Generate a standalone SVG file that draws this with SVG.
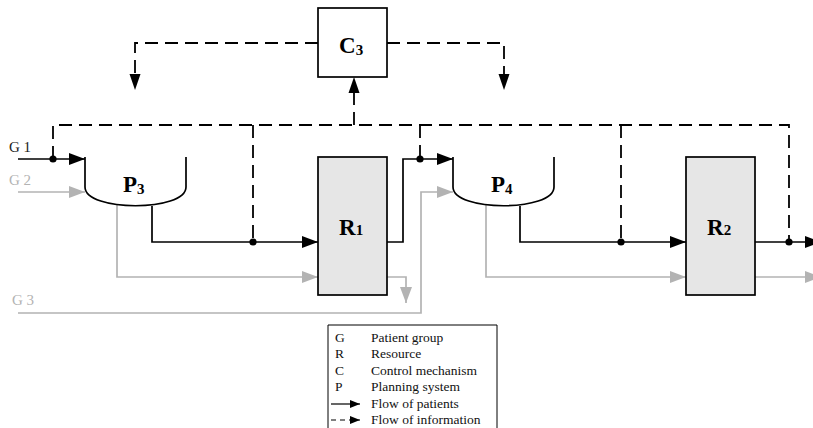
<svg xmlns="http://www.w3.org/2000/svg" width="813" height="428" viewBox="0 0 813 428">
<style>
.blk{fill:none;stroke:#000;stroke-width:1.7}
.gry{fill:none;stroke:#b3b3b3;stroke-width:1.7}
.dsh{fill:none;stroke:#000;stroke-width:1.8;stroke-dasharray:13,7}
.box{fill:#fff;stroke:#000;stroke-width:1.7}
.res{fill:#e6e6e6;stroke:#000;stroke-width:1.7}
.lbl{font-family:"Liberation Serif",serif;font-size:23px;font-weight:bold;fill:#000}
.sub{font-size:15px}
.g{font-family:"Liberation Serif",serif;font-size:15px;fill:#222}
.gg{font-family:"Liberation Serif",serif;font-size:15px;fill:#b3b3b3}
.leg{font-family:"Liberation Serif",serif;font-size:13.5px;fill:#111}
.dot{fill:#000}
</style>
<defs>
<marker id="ab" markerUnits="userSpaceOnUse" markerWidth="17" markerHeight="12" refX="16" refY="6" orient="auto"><path d="M0,0 L16,6 L0,12 z" fill="#000"/></marker>
<marker id="ag" markerUnits="userSpaceOnUse" markerWidth="17" markerHeight="12" refX="16" refY="6" orient="auto"><path d="M0,0 L16,6 L0,12 z" fill="#b3b3b3"/></marker>
<marker id="al" markerUnits="userSpaceOnUse" markerWidth="11" markerHeight="8" refX="10" refY="4" orient="auto"><path d="M0,0 L10,4 L0,8 z" fill="#000"/></marker>
</defs>

<g id="connectors">
<path class="dsh" d="M318,43 H135 V76"/>
<path d="M129.5,74 L140.5,74 L135,90 z" fill="#000"/>
<path class="dsh" d="M387,43 H504 V76"/>
<path d="M498.5,74 L509.5,74 L504,90 z" fill="#000"/>
<path class="dsh" d="M354,125 V93"/>
<path d="M348.5,93 L359.5,93 L354,77 z" fill="#000"/>
<path class="dsh" d="M53,159 V125 H789 V242"/>
<path class="dsh" d="M253,125 V242"/>
<path class="dsh" d="M420,125 V159"/>
<path class="dsh" d="M621,125 V242"/>
<path class="blk" d="M18,159 H85" marker-end="url(#ab)"/>
<path class="blk" d="M152,206 V242 H318" marker-end="url(#ab)"/>
<path class="blk" d="M387,242 H403 V159 H453" marker-end="url(#ab)"/>
<path class="blk" d="M520,206 V242 H686" marker-end="url(#ab)"/>
<path class="blk" d="M755,242 H821" marker-end="url(#ab)"/>
<path class="gry" d="M18,192 H85" marker-end="url(#ag)"/>
<path class="gry" d="M117,205 V277 H318" marker-end="url(#ag)"/>
<path class="gry" d="M387,277 H406 V303" marker-end="url(#ag)"/>
<path class="gry" d="M18,313 H421 V192 H453" marker-end="url(#ag)"/>
<path class="gry" d="M486,205 V277 H686" marker-end="url(#ag)"/>
<path class="gry" d="M755,277 H821" marker-end="url(#ag)"/>
<circle class="dot" cx="53" cy="159" r="3.6"/>
<circle class="dot" cx="253" cy="242" r="3.6"/>
<circle class="dot" cx="420" cy="159" r="3.6"/>
<circle class="dot" cx="621" cy="242" r="3.6"/>
<circle class="dot" cx="789" cy="242" r="3.6"/>
</g>

<g id="C3">
<rect class="box" x="318" y="8" width="69" height="69"/>
<text class="lbl" x="339" y="53">C<tspan class="sub" dy="2">3</tspan></text>
</g>

<g id="P3">
<path class="box" d="M85,157 V187 C85,212 186,212 186,187 V157"/>
<text class="lbl" x="123" y="192">P<tspan class="sub" dy="2">3</tspan></text>
</g>

<g id="R1">
<rect class="res" x="318" y="157" width="69" height="138"/>
<text class="lbl" x="339" y="235">R<tspan class="sub">1</tspan></text>
</g>

<g id="P4">
<path class="box" d="M453,157 V187 C453,212 554,212 554,187 V157"/>
<text class="lbl" x="491" y="192">P<tspan class="sub" dy="2">4</tspan></text>
</g>

<g id="R2">
<rect class="res" x="686" y="157" width="69" height="138"/>
<text class="lbl" x="707" y="235">R<tspan class="sub">2</tspan></text>
</g>

<g id="G1"><text class="g" x="9" y="152">G 1</text></g>
<g id="G2"><text class="gg" x="9" y="185">G 2</text></g>
<g id="G3"><text class="gg" x="12" y="305">G 3</text></g>

<g id="legend">
<path d="M328,432 V325 H497 V432" fill="#fff" stroke="#000" stroke-width="1"/>
<text class="leg" x="335" y="342">G</text><text class="leg" x="371" y="342">Patient group</text>
<text class="leg" x="335" y="358">R</text><text class="leg" x="371" y="358">Resource</text>
<text class="leg" x="335" y="375">C</text><text class="leg" x="371" y="375">Control mechanism</text>
<text class="leg" x="335" y="391">P</text><text class="leg" x="371" y="391">Planning system</text>
<path d="M331,404 H360" stroke="#000" stroke-width="1.2" marker-end="url(#al)"/>
<text class="leg" x="371" y="408">Flow of patients</text>
<path d="M331,420 H360" stroke="#000" stroke-width="1.2" stroke-dasharray="5,4" marker-end="url(#al)"/>
<text class="leg" x="371" y="424">Flow of information</text>
</g>
</svg>
